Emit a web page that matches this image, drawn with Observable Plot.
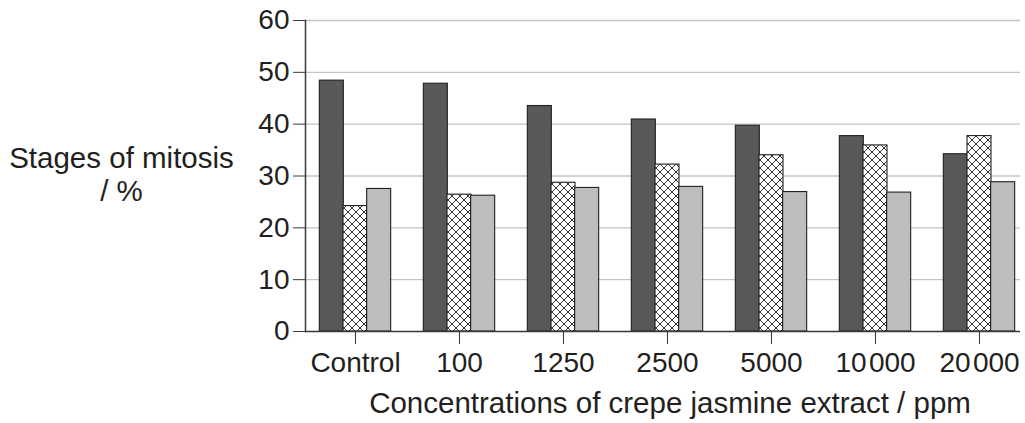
<!DOCTYPE html>
<html>
<head>
<meta charset="utf-8">
<script src="https://cdn.jsdelivr.net/npm/d3@7"></script>
<script src="https://cdn.jsdelivr.net/npm/@observablehq/plot@0.6"></script>
<style>
  html, body { margin: 0; padding: 0; background: #ffffff; }
</style>
</head>
<body>
<div id="chart"></div>
<script>
const concentrations = ["Control", "100", "1250", "2500", "5000", "10\u200a000", "20\u200a000"];
const stages = ["Stage 1", "Stage 2", "Stage 3"];
const stage1 = [48.4, 47.8, 43.5, 40.9, 39.7, 37.7, 34.2];
const stage2 = [24.2, 26.4, 28.7, 32.2, 34.0, 35.9, 37.7];
const stage3 = [27.5, 26.2, 27.7, 27.9, 26.9, 26.8, 28.8];
const yTicks = [0, 10, 20, 30, 40, 50, 60];
const yTitle = "Stages of mitosis\n/ %";
const xTitle = "Concentrations of crepe jasmine extract / ppm";

const seriesValues = [stage1, stage2, stage3];
const data = concentrations.flatMap((c, i) =>
  stages.map((s, k) => ({concentration: c, stage: s, value: seriesValues[k][i]}))
);

const textColor = "#231f20";
const axisColor = "#3a3a3a";
const font = "'Liberation Sans', Arial, sans-serif";

const W = 1025, H = 423, mL = 305, mR = 5, mT = 20, mB = 92;
const padInner = 0.7724, padOuter = 0.3237, bandAlign = 0.56;
const step = (W - mL - mR) / (concentrations.length - padInner + 2 * padOuter);
const barWidth = step * (1 - padInner);

const chart = Plot.plot({
  width: W,
  height: H,
  marginTop: mT,
  marginBottom: mB,
  marginLeft: mL,
  marginRight: mR,
  style: {fontFamily: font, fontSize: "28px", color: textColor, background: "#ffffff", overflow: "visible"},
  x: {domain: concentrations, paddingInner: padInner, paddingOuter: padOuter, align: bandAlign, label: null},
  y: {domain: [0, 60], label: null},
  color: {domain: stages, range: ["#58595b", "url(#xhatch)", "#bcbdbf"]},
  marks: [
    Plot.ruleY(yTicks.filter(d => d > 0), {stroke: "#c4c4c4", strokeWidth: 1.4}),
    ...stages.map((s, k) =>
      Plot.barY(data.filter(d => d.stage === s), {
        x: "concentration", y: "value", fill: "stage",
        dx: (k - 1) * barWidth,
        stroke: textColor, strokeWidth: 1.1
      })
    ),
    Plot.ruleY([0], {stroke: axisColor, strokeWidth: 1.5}),
    Plot.frame({anchor: "left", stroke: axisColor, strokeWidth: 1.5}),
    Plot.axisY({ticks: yTicks, tickSize: 12, tickPadding: 4, label: null, stroke: axisColor, fontSize: 28}),
    Plot.axisX({tickSize: 13, tickPadding: 8, label: null, stroke: axisColor, fontSize: 28}),
    Plot.text([yTitle], {text: d => d, frameAnchor: "left", dx: -184, dy: -2, textAnchor: "middle", lineAnchor: "middle", lineHeight: 1.1, fontSize: 29.5, fill: textColor}),
    Plot.text([xTitle], {text: d => d, frameAnchor: "bottom", dx: 7, dy: 61, textAnchor: "middle", lineAnchor: "top", fontSize: 29.5, fill: textColor})
  ]
});

const svg = d3.select(chart);
const defs = svg.insert("defs", ":first-child");
const pat = defs.append("pattern")
  .attr("id", "xhatch")
  .attr("patternUnits", "userSpaceOnUse")
  .attr("width", 8)
  .attr("height", 8);
pat.append("rect").attr("width", 8).attr("height", 8).attr("fill", "#ffffff");
pat.append("path").attr("d", "M0,0L8,8M8,0L0,8").attr("stroke", "#333333").attr("stroke-width", 1).attr("fill", "none");

document.getElementById("chart").appendChild(chart);
</script>
</body>
</html>
